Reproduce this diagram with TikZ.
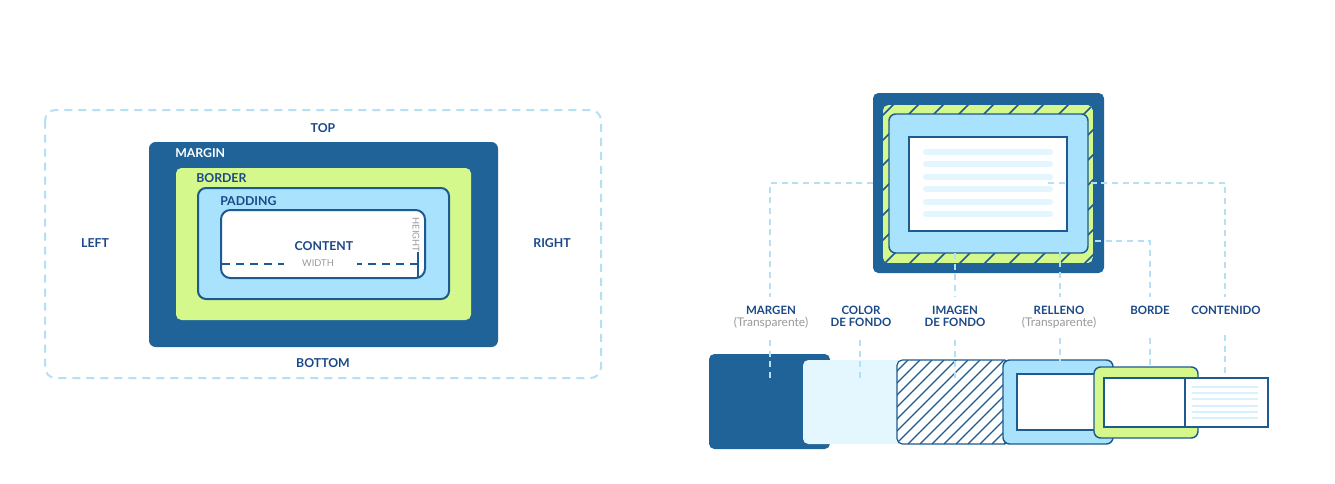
\documentclass[tikz,border=0pt]{standalone}
\usepackage{fontspec}
\setmainfont{Lato}
\definecolor{darkb}{HTML}{206399}
\definecolor{limeg}{HTML}{D4F88C}
\definecolor{padb}{HTML}{A8E2FC}
\definecolor{navyline}{HTML}{1D5A90}
\definecolor{navy}{HTML}{1A4888}
\definecolor{outc}{HTML}{B5DFF4}
\definecolor{leadc}{HTML}{B5DFF4}
\definecolor{textbar}{HTML}{E3F6FD}
\definecolor{lightbg}{HTML}{E4F7FE}
\definecolor{graytxt}{HTML}{999999}
\begin{document}
\begin{tikzpicture}[x=0.75pt,y=-0.75pt,
  lbl/.style={font=\fontsize{9.2}{10}\selectfont\bfseries, text=navy, inner sep=0pt},
  rlbl/.style={font=\fontsize{8.6}{9}\selectfont\bfseries, text=navy, inner sep=0pt, anchor=base},
  sub/.style={font=\fontsize{9}{9}\selectfont, text=graytxt, inner sep=0pt, anchor=base},
  small/.style={font=\fontsize{7}{8}\selectfont, text=graytxt, inner sep=0pt},
  leader/.style={draw=leadc, line width=1.1pt, dash pattern=on 4.5pt off 3.5pt},
  edge/.style={draw=navyline, line width=1.1pt}
]
\useasboundingbox (0,0) rectangle (1335,483);
\fill[white] (0,0) rectangle (1335,483);

% ---------------- left diagram ----------------
\draw[draw=outc, line width=1.5pt, dash pattern=on 6pt off 4.5pt, rounded corners=8pt] (45,110) rectangle (601,378);
\fill[darkb, rounded corners=5pt] (149,142) rectangle (498,347);
\fill[limeg, rounded corners=4pt] (176,168) rectangle (471,320);
\filldraw[fill=padb, draw=navyline, line width=1.5pt, rounded corners=6pt] (198,188) rectangle (449,299);
\filldraw[fill=white, draw=navyline, line width=1.5pt, rounded corners=7pt] (221,210) rectangle (425,278);
\draw[navyline, line width=1.5pt, dash pattern=on 6pt off 4.5pt] (222,264) -- (284,264);
\draw[navyline, line width=1.5pt, dash pattern=on 6pt off 4.5pt] (418,264) -- (357,264);
\draw[navyline, line width=1.5pt] (418,252) -- (418,278);

\node[lbl] (top) at (323,128) {TOP};
\node[lbl, text=white, anchor=west] (margin) at (175,153) {MARGIN};
\node[lbl, anchor=west] (border) at (196,178) {BORDER};
\node[lbl, anchor=west] (padding) at (220,201) {PADDING};
\node[lbl] (content) at (324,246) {CONTENT};
\node[small] (width) at (318,263) {WIDTH};
\node[small, rotate=-90] (height) at (416,235) {HEIGHT};
\node[lbl] (left) at (95,243) {LEFT};
\node[lbl] (right) at (552,243) {RIGHT};
\node[lbl] (bottom) at (323,363) {BOTTOM};

% ---------------- right top box ----------------
\fill[darkb, rounded corners=4pt] (873,93) rectangle (1104,273);
\begin{scope}
  \path[clip, rounded corners=4pt] (883,105) rectangle (1093,263);
  \fill[limeg] (883,105) rectangle (1093,263);
  \foreach \a in {700,725,...,1100} \draw[navyline, line width=1.2pt] (\a,273) -- (\a+180,93);
\end{scope}
\filldraw[fill=padb, edge, rounded corners=5pt] (889,114) rectangle (1088,253);
\filldraw[fill=white, edge] (909,137) rectangle (1067,231);
\foreach \yy in {152,164.4,176.8,189.2,201.6,214}
  \draw[textbar, line width=4.5pt, line cap=round] (926,\yy) -- (1050,\yy);

% ---------------- bottom pieces ----------------
\fill[darkb, rounded corners=4pt] (709,354) rectangle (830,449);
\fill[lightbg, rounded corners=4pt] (803,360) rectangle (910,444);
\begin{scope}
  \path[clip, rounded corners=4pt] (897,360) rectangle (1010,444);
  \fill[white] (897,360) rectangle (1010,444);
  \foreach \a in {800,812,...,1020} \draw[navyline, line width=1pt] (\a,444) -- (\a+84,360);
\end{scope}
\draw[edge, line width=0.9pt, rounded corners=4pt] (897,360) rectangle (1010,444);
\filldraw[fill=padb, edge, rounded corners=5pt] (1003,360) rectangle (1113,444);
\filldraw[fill=white, edge] (1017,374) rectangle (1097,430);
\filldraw[fill=limeg, edge, rounded corners=5pt] (1094,367) rectangle (1198,438);
\filldraw[fill=white, edge] (1104,378) rectangle (1185,427);
\filldraw[fill=white, edge] (1185,378) rectangle (1268,427);
\foreach \yy in {387,393.2,399.4,405.6,411.8,418}
  \draw[textbar!80!padb, line width=1.6pt] (1192,\yy) -- (1258,\yy);

% ---------------- labels ----------------
\node[rlbl] (margen) at (771,314.3) {MARGEN};
\node[sub] (margent) at (771,326) {(Transparente)};
\node[rlbl] (color) at (861,314.3) {COLOR};
\node[rlbl] (colorf) at (861,326) {DE FONDO};
\node[rlbl] (imagen) at (955,314.3) {IMAGEN};
\node[rlbl] (imagenf) at (955,326) {DE FONDO};
\node[rlbl] (relleno) at (1059,314.3) {RELLENO};
\node[sub] (rellenot) at (1059,326) {(Transparente)};
\node[rlbl] (borde) at (1150,314.3) {BORDE};
\node[rlbl] (contenido) at (1226,314.3) {CONTENIDO};

% ---------------- leaders ----------------
\draw[leader] (873,183) -- (770,183) -- (770,297);
\draw[leader] (770,340) -- (770,378);
\draw[leader] (860,340) -- (860,378);
\draw[leader] (955,253) -- (955,297);
\draw[leader] (955,340) -- (955,378);
\draw[leader] (1060,240) -- (1060,297);
\draw[leader] (1060,338) -- (1060,362);
\draw[leader] (1095,241) -- (1150,241) -- (1150,297);
\draw[leader] (1150,338) -- (1150,368);
\draw[leader] (1048,183) -- (1225,183) -- (1225,297);
\draw[leader] (1225,335) -- (1225,373);
\end{tikzpicture}
\end{document}
